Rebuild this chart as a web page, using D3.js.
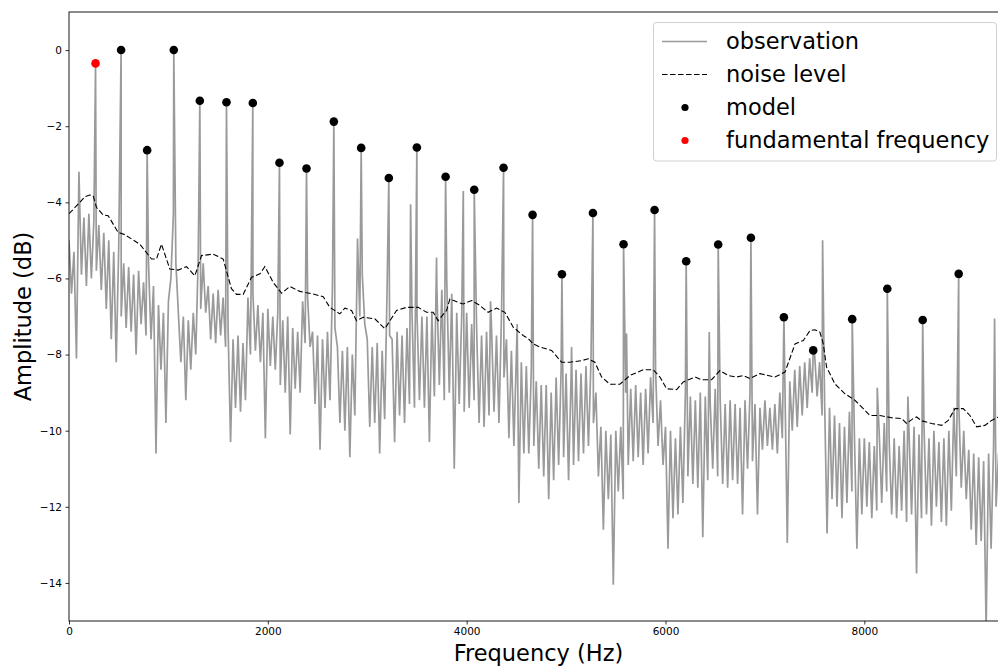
<!DOCTYPE html>
<html>
<head>
<meta charset="utf-8">
<script src="https://cdn.jsdelivr.net/npm/d3@7"></script>
<style>
  body { margin: 0; background: #fff; overflow: hidden; }
  svg { display: block; font-family: "DejaVu Sans", sans-serif; }
</style>
</head>
<body>
<script>

// observation spectrum, one value every 25 Hz
var obsStep = 25;
var obsAmp = [
  -5.0, -6.4, -5.3, -8.1,   -3.2, -5.9, -4.4, -6.2,   -4.3, -6.0, -4.5, -5.8,   -4.6, -6.3, -4.8, -6.8,
  -5.0, -7.6, -5.3, -8.2,   -5.2, -7.0, -5.6, -7.3,   -5.7, -7.4, -5.9, -8.0,   -5.8, -7.2, -6.1, -7.5,
  -5.6, -7.6, -6.2, -10.6,  -6.7, -8.4, -6.9, -9.8,   -6.6, -6.0, -4.3, -5.6,   -6.9, -8.2, -7.0, -9.2,
  -7.1, -8.4, -6.9, -8.0,   -5.4, -6.8, -5.6, -6.9,   -6.2, -7.6, -6.4, -7.7,   -6.3, -7.5, -6.5, -7.8,
  -7.3, -10.3, -7.6, -9.4,  -7.5, -9.5, -7.7, -9.2,   -6.5, -8.0, -6.4, -7.9,   -6.7, -8.2, -6.9, -10.2,
  -6.8, -8.3, -7.0, -8.4,   -6.9, -8.8, -7.1, -9.0,   -7.0, -10.1, -7.3, -8.9,  -7.4, -9.0, -6.6, -7.7,
  -6.5, -7.8, -7.4, -9.3,   -7.5, -10.5, -7.6, -9.4,  -7.4, -9.2, -6.2, -7.3,   -7.8, -9.8, -7.9, -10.0,
  -7.8, -10.7, -8.0, -9.6,  -5.4, -7.0, -5.9, -7.2,   -7.6, -9.9, -7.8, -9.8,   -7.7, -10.6, -7.9, -9.7,
  -6.2, -7.5, -7.6, -10.3,  -7.4, -9.6, -7.5, -9.8,   -7.3, -9.3, -6.9, -9.4,   -6.9, -9.2, -7.0, -9.4,
  -7.0, -10.3, -6.9, -9.1,  -6.2, -8.8, -6.3, -9.2,   -6.1, -9.0, -6.4, -11.0,  -6.9, -9.3, -7.0, -9.5,
  -6.9, -9.4, -7.2, -9.2,   -7.3, -9.8, -7.5, -9.9,   -7.4, -9.6, -7.3, -9.5,   -7.5, -9.8, -7.0, -8.6,
  -7.6, -10.2, -7.9, -10.4, -8.0, -11.9, -8.2, -10.6, -8.3, -10.6, -8.4, -10.4, -8.7, -11.0, -8.8, -11.2,
  -8.8, -11.8, -9.0, -11.3, -8.6, -10.9, -8.4, -10.7, -8.5, -11.3, -8.6, -10.9, -8.4, -10.8, -8.5, -10.6,
  -8.3, -10.4, -8.2, -9.8,  -9.0, -11.2, -9.9, -12.6, -10.0, -11.8, -10.1, -14.05, -10.0, -11.6, -9.9, -11.8,
  -9.0, -10.9, -8.9, -10.8, -8.8, -10.7, -9.0, -10.9, -8.9, -10.6, -8.6, -9.8,   -8.4, -10.4, -9.2, -10.9,
  -9.9, -13.1, -10.0, -12.3, -10.2, -12.2, -9.9, -11.9, -9.0, -11.2, -9.1, -11.4, -9.2, -11.5, -9.0, -12.8,
  -9.1, -11.3, -9.3, -11.0, -8.9, -11.2, -9.2, -11.4, -9.3, -11.5, -9.2, -11.3, -9.3, -11.4, -9.4, -12.2,
  -9.2, -11.0, -9.0, -10.8, -9.3, -12.2, -9.4, -10.5, -9.2, -10.4, -9.4, -10.5, -9.3, -10.6, -9.0, -10.2,
  -8.6, -12.95, -8.7, -10.0, -8.4, -9.9, -8.3, -9.6, -8.2, -9.4, -8.1, -9.0,  -8.0, -9.1, -8.2, -9.6,
  -9.2, -12.7, -9.4, -11.8, -9.6, -12.0, -9.8, -12.3, -9.9, -11.9, -9.5, -11.6, -10.1, -13.1, -10.2, -12.2,
  -10.2, -12.0, -10.3, -12.3, -10.4, -12.1, -10.1, -11.9, -9.8, -11.6, -10.3, -12.2, -10.2, -12.3, -10.4, -12.1,
  -10.0, -12.4, -10.1, -12.2, -9.9, -13.75, -10.1, -12.3, -9.9, -12.2, -10.2, -12.5, -10.0, -12.0, -10.3, -12.4,
  -10.2, -12.5, -10.0, -12.1, -9.4, -11.2, -9.3, -11.5, -10.0, -11.8, -10.5, -12.6, -10.6, -13.0, -10.7, -12.9,
  -10.8, -15.2, -10.6, -13.1, -10.4, -12.0, -10.6, -12.3, -10.4, -12.0
];

// narrow spikes in the observation that are not harmonics
var spikeFreq = [2902, 3436, 3697, 3966, 4240, 4508, 5055, 5608, 6440, 7580, 8130, 8438, 9310];
var spikeAmp  = [-4.95, -4.05, -5.45, -3.7, -6.6, -7.2, -7.8, -7.45, -7.41, -5.0, -8.87, -9.1, -7.05];

// model (harmonic peaks)
var f0Freq = [267];
var f0Amp  = [-0.35];
var harmFreq = [524, 786, 1054, 1316, 1584, 1849, 2117, 2389, 2664, 2939, 3217, 3499, 3788, 4076, 4371,
                4663, 4958, 5270, 5578, 5890, 6208, 6530, 6859, 7191, 7486, 7878, 8231, 8587, 8949];
var harmAmp  = [0, -2.63, 0, -1.33, -1.37, -1.39, -2.96, -3.11, -1.88, -2.57, -3.36, -2.56, -3.33, -3.67, -3.09,
                -4.33, -5.89, -4.28, -5.10, -4.20, -5.55, -5.11, -4.93, -7.02, -7.89, -7.07, -6.27, -7.09, -5.88];

// noise level
var noiseFreq = [0, 110, 160, 209, 243, 276, 343, 394, 494, 561, 712, 830, 880, 930, 1014, 1098, 1182, 1266,
                 1333, 1450, 1551, 1634, 1685, 1752, 1836, 1920, 1970, 2053, 2138, 2221, 2322, 2456, 2557,
                 2624, 2724, 2775, 2842, 2892, 2959, 3076, 3177, 3295, 3395, 3512, 3597, 3663, 3713, 3798,
                 3831, 3915, 3965, 4049, 4133, 4216, 4301, 4384, 4468, 4568, 4620, 4669, 4736, 4854, 4955,
                 5038, 5156, 5222, 5290, 5357, 5441, 5541, 5642, 5776, 5876, 5944, 6011, 6112, 6179, 6296,
                 6363, 6464, 6548, 6631, 6715, 6782, 6849, 6950, 7101, 7202, 7303, 7386, 7453, 7503, 7553,
                 7587, 7620, 7704, 7805, 7905, 7989, 8056, 8157, 8274, 8375, 8425, 8492, 8526, 8576, 8677,
                 8778, 8844, 8912, 8995, 9062, 9130, 9213, 9280, 9340, 9440];
var noiseAmp  = [-4.3, -4.0, -3.85, -3.81, -3.83, -4.13, -4.33, -4.35, -4.79, -4.85, -5.10, -5.49, -5.49, -5.10,
                 -5.75, -5.78, -5.69, -5.93, -5.40, -5.36, -5.49, -6.27, -6.42, -6.42, -5.97, -5.88, -5.69,
                 -6.10, -6.39, -6.21, -6.34, -6.41, -6.48, -6.76, -6.93, -6.78, -6.84, -7.11, -7.02, -7.06,
                 -7.32, -6.84, -6.76, -6.76, -6.89, -6.89, -7.11, -6.84, -6.54, -6.63, -6.67, -6.58, -6.71,
                 -6.89, -6.78, -6.89, -7.28, -7.50, -7.58, -7.72, -7.80, -7.89, -8.20, -8.20, -8.16, -8.11,
                 -8.20, -8.59, -8.78, -8.78, -8.55, -8.40, -8.40, -8.59, -8.90, -8.92, -8.72, -8.59, -8.66,
                 -8.66, -8.42, -8.55, -8.59, -8.55, -8.63, -8.50, -8.59, -8.46, -7.72, -7.63, -7.37, -7.35,
                 -7.41, -7.72, -8.33, -8.77, -9.03, -9.20, -9.42, -9.60, -9.60, -9.66, -9.68, -9.81, -9.68,
                 -9.64, -9.74, -9.81, -9.86, -9.73, -9.42, -9.42, -9.60, -9.90, -9.86, -9.73, -9.65, -9.6];

var xTicks = [0, 2000, 4000, 6000, 8000];
var yTicks = [0, -2, -4, -6, -8, -10, -12, -14];

var legendLabels = ["observation", "noise level", "model", "fundamental frequency"];

var w = 998, h = 666;
// the axes run a little past the right edge of the picture
var padL = 69, padR = 1008, padT = 12, padB = 621;

var svg = d3.select("body").append("svg")
    .attr("width", w)
    .attr("height", h);

var x = d3.scaleLinear().domain([0, 9445]).range([padL, padR]);
var y = d3.scaleLinear().domain([-15, 1]).range([padB, padT]);

// put the observation together: grid values + peaks, sorted by frequency
var obs = obsAmp.map(function(d, i) { return {f: i * obsStep, a: d}; });
harmFreq.forEach(function(f, i) { obs.push({f: f, a: harmAmp[i]}); });
f0Freq.forEach(function(f, i) { obs.push({f: f, a: f0Amp[i]}); });
spikeFreq.forEach(function(f, i) { obs.push({f: f, a: spikeAmp[i]}); });
obs.sort(function(a, b) { return a.f - b.f; });

var noise = noiseFreq.map(function(f, i) { return {f: f, a: noiseAmp[i]}; });

svg.append("clipPath").attr("id", "plot")
    .append("rect")
    .attr("x", padL).attr("y", padT)
    .attr("width", padR - padL).attr("height", padB - padT);

var line = d3.line()
    .x(function(d) { return x(d.f); })
    .y(function(d) { return y(d.a); });

var plot = svg.append("g").attr("clip-path", "url(#plot)");

plot.append("path")
    .datum(obs)
    .attr("d", line)
    .attr("fill", "none")
    .attr("stroke", "#9a9a9a")
    .attr("stroke-width", 1.7)
    .attr("stroke-linejoin", "miter")
    .attr("stroke-miterlimit", 2);

plot.append("path")
    .datum(noise)
    .attr("d", line)
    .attr("fill", "none")
    .attr("stroke", "#000")
    .attr("stroke-width", 1.1)
    .attr("stroke-dasharray", "5.5,2.5");

plot.selectAll("circle.model")
    .data(harmFreq)
    .enter()
    .append("circle")
    .attr("class", "model")
    .attr("cx", function(d) { return x(d); })
    .attr("cy", function(d, i) { return y(harmAmp[i]); })
    .attr("r", 4.3)
    .attr("fill", "#000");

plot.selectAll("circle.f0")
    .data(f0Freq)
    .enter()
    .append("circle")
    .attr("class", "f0")
    .attr("cx", function(d) { return x(d); })
    .attr("cy", function(d, i) { return y(f0Amp[i]); })
    .attr("r", 4.3)
    .attr("fill", "#ff0000");

/* axes */
var xAxis = svg.append("g")
    .attr("transform", "translate(0," + padB + ")")
    .call(d3.axisBottom(x).tickValues(xTicks).tickSize(3.5).tickPadding(3).tickFormat(d3.format("d")));

var yAxis = svg.append("g")
    .attr("transform", "translate(" + padL + ",0)")
    .call(d3.axisLeft(y).tickValues(yTicks).tickSize(3.5).tickPadding(3.5).tickFormat(d3.format("d")));

[xAxis, yAxis].forEach(function(a) {
  a.select(".domain").remove();
  a.selectAll("text")
      .attr("font-family", "DejaVu Sans")
      .attr("font-size", "10.5px")
      .attr("fill", "#000");
  a.selectAll("line").attr("stroke", "#000").attr("stroke-width", 0.8);
});

svg.append("rect")
    .attr("x", padL).attr("y", padT)
    .attr("width", padR - padL).attr("height", padB - padT)
    .attr("fill", "none")
    .attr("stroke", "#000")
    .attr("stroke-width", 0.9);

svg.append("text")
    .attr("x", (padL + padR) / 2)
    .attr("y", 661)
    .attr("text-anchor", "middle")
    .attr("font-size", "22.5px")
    .text("Frequency (Hz)");

svg.append("text")
    .attr("transform", "translate(31," + ((padT + padB) / 2) + ") rotate(-90)")
    .attr("text-anchor", "middle")
    .attr("font-size", "22.5px")
    .text("Amplitude (dB)");

/* legend */
var lg = svg.append("g");
lg.append("rect")
    .attr("x", 653.5).attr("y", 22.5)
    .attr("width", 343).attr("height", 138.5)
    .attr("rx", 3)
    .attr("fill", "#fff")
    .attr("fill-opacity", 0.8)
    .attr("stroke", "#d0d0d0");

var rowY = function(i) { return 41.5 + i * 33; };

lg.append("line")
    .attr("x1", 662).attr("x2", 707)
    .attr("y1", rowY(0)).attr("y2", rowY(0))
    .attr("stroke", "#9a9a9a").attr("stroke-width", 1.5);
lg.append("line")
    .attr("x1", 662).attr("x2", 707)
    .attr("y1", rowY(1)).attr("y2", rowY(1))
    .attr("stroke", "#000").attr("stroke-width", 1.1)
    .attr("stroke-dasharray", "5.5,2.5");
lg.append("circle").attr("cx", 685).attr("cy", rowY(2)).attr("r", 3.6).attr("fill", "#000");
lg.append("circle").attr("cx", 685).attr("cy", rowY(3)).attr("r", 3.6).attr("fill", "#ff0000");

lg.selectAll("text")
    .data(legendLabels)
    .enter()
    .append("text")
    .attr("x", 726)
    .attr("y", function(d, i) { return rowY(i) + 7.5; })
    .attr("font-size", "22.5px")
    .attr("fill", "#000")
    .text(function(d) { return d; });

</script>
</body>
</html>
